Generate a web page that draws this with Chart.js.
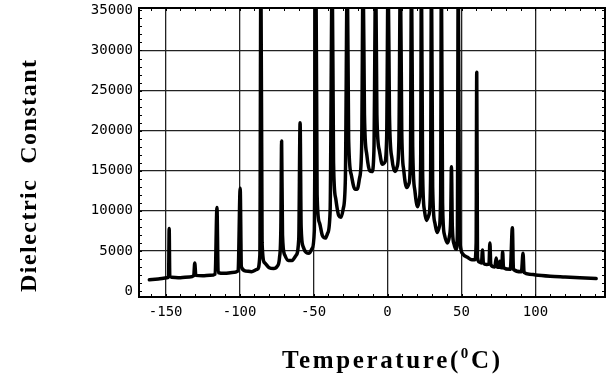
<!DOCTYPE html>
<html>
<head>
<meta charset="utf-8">
<script src="https://cdn.jsdelivr.net/npm/chart.js@4.4.1/dist/chart.umd.min.js"></script>
<style>
html,body{margin:0;padding:0;background:#fff;}
canvas{display:block;}
</style>
</head>
<body>
<canvas id="c" width="611" height="382"></canvas>
<script>
// ---- data ----
const temps = [
 -161,-155,-149,-148.0,-147.6,-147.2,-146,-140,-134,-131,-130.3,-129.6,-125,-120,-116.5,-115.3,-114.5,
 -110,-105,-101,-99.6,-98.8,-96,-92,-88,-86.3,-85.6,-84.8,-83,-80,-77,-74.5,-73,-72.1,-71.6,-71.0,
 -69.5,-67,-64.5,-62,-60,-59.1,-58.4,-57,-55,-53,-51,-49.5,-48.4,-47.6,-46,-44,-42,-40.5,-38.8,-37.4,
 -36.5,-35,-33,-31.5,-30,-28.5,-27.2,-26.3,-24.5,-22,-20.5,-19,-17.5,-16.5,-15.6,-14,-12,-10.5,-9.2,-8,
 -7.2,-5.5,-3.5,-2,-0.6,0.4,1.3,3,5,6.5,7.7,8.7,9.6,11,13,14.5,15.5,16.2,17.0,18.5,20.3,21.6,22.4,22.9,
 23.7,25,26.3,28,29.1,29.7,30.5,32,33.5,35,35.9,36.4,37.2,38.5,40.3,41.8,42.7,43.2,43.8,45,46.3,47.2,47.8,
 48.6,49.5,51,54,57,59,59.9,60.3,60.8,62,63.5,64.2,64.8,67,68.6,69.2,69.8,72.5,73.5,74.2,75.4,75.9,76.4,
 77.2,77.8,78.4,83,84.4,85.1,90.5,91.6,92.3,96,100,110,120,130,141
];
const eps = [
 1400,1500,1650,1800,7800,1900,1700,1650,1750,1900,3500,1950,1900,1950,2100,10400,2300,
 2200,2300,2500,12800,3000,2500,2400,2700,4500,40000,6000,3500,2900,2800,3100,4200,8000,18700,7000,
 4500,3800,3800,4400,6500,21000,8000,5500,4800,4700,5300,7500,40000,12000,8500,6900,6600,7200,10000,40000,
 16000,11500,9400,9200,10200,14000,40000,19000,14500,12700,12700,14000,18000,40000,22000,17000,15000,14900,17500,40000,
 22000,17500,15800,16000,19000,40000,22000,16500,14900,15500,19000,40000,20000,15000,12900,13400,17000,40000,18000,12500,10500,11500,16000,40000,
 15000,10000,8800,9500,14000,40000,13000,8500,7300,8000,12000,40000,11000,7000,6000,6800,9000,15500,8000,5800,5200,7000,40000,
 9000,5300,4600,4200,3900,3900,6000,27300,4200,3600,3500,5100,3500,3300,3400,6000,3300,3000,4100,3000,2950,3700,2950,
 2900,4900,2900,2700,7900,2700,2400,4700,2300,2100,2000,1850,1750,1650,1550
];
const xTicks = [-150, -100, -50, 0, 50, 100];
const yTicks = [0, 5000, 10000, 15000, 20000, 25000, 30000, 35000];
const xTickLabels = ['-150', '-100', '-50', '0', '50', '100'];
const yTickLabels = ['0', '5000', '10000', '15000', '20000', '25000', '30000', '35000'];
const xTitle = ['Temperature(', '0', 'C)'];
const yTitle = 'Dielectric  Constant';

const points = temps.map((t, i) => ({x: t, y: eps[i]}));

const frame = {
  id: 'frame',
  afterDraw(chart) {
    const ctx = chart.ctx, a = chart.chartArea;
    const xs = chart.scales.x, ys = chart.scales.y;
    ctx.save();
    ctx.strokeStyle = '#000';
    ctx.lineWidth = 2;
    ctx.strokeRect(a.left, a.top, a.right - a.left, a.bottom - a.top);
    // minor ticks
    ctx.lineWidth = 1;
    ctx.beginPath();
    for (let v = -160; v <= 140; v += 10) {
      const px = Math.round(xs.getPixelForValue(v)) + 0.5;
      ctx.moveTo(px, a.bottom); ctx.lineTo(px, a.bottom - 3);
      ctx.moveTo(px, a.top); ctx.lineTo(px, a.top + 3);
    }
    for (let v = 0; v <= 35000; v += 1000) {
      const py = Math.round(ys.getPixelForValue(v)) + 0.5;
      ctx.moveTo(a.left, py); ctx.lineTo(a.left + 3, py);
      ctx.moveTo(a.right, py); ctx.lineTo(a.right - 3, py);
    }
    ctx.stroke();

    // x title
    ctx.fillStyle = '#000';
    ctx.textBaseline = 'alphabetic';
    const big = 'bold 25px "Liberation Serif", "Times New Roman", serif';
    const small = 'bold 15px "Liberation Serif", "Times New Roman", serif';
    ctx.letterSpacing = '0px';
    ctx.font = big;
    let w = ctx.measureText(xTitle[0]).width + ctx.measureText(xTitle[2]).width;
    ctx.font = small;
    w += ctx.measureText(xTitle[1]).width;
    const sp = (218 - w) / 14;
    ctx.letterSpacing = sp + 'px';
    let x = 282, base = 368;
    ctx.font = big;
    ctx.fillText(xTitle[0], x, base); x += ctx.measureText(xTitle[0]).width;
    ctx.font = small;
    ctx.fillText(xTitle[1], x, base - 10); x += ctx.measureText(xTitle[1]).width;
    ctx.font = big;
    ctx.fillText(xTitle[2], x, base);

    // y title
    ctx.letterSpacing = '0px';
    ctx.font = 'bold 24px "Liberation Serif", "Times New Roman", serif';
    const wy = ctx.measureText(yTitle).width;
    const spy = (232 - wy) / (yTitle.length - 1);
    ctx.letterSpacing = spy + 'px';
    ctx.translate(36, 292);
    ctx.rotate(-Math.PI / 2);
    ctx.textAlign = 'left';
    ctx.fillText(yTitle, 0, 0);
    ctx.restore();
  }
};

new Chart(document.getElementById('c'), {
  type: 'line',
  data: {
    datasets: [{
      data: points,
      borderColor: '#000',
      borderWidth: 3.5,
      pointRadius: 0,
      fill: false,
      cubicInterpolationMode: 'monotone',
      borderJoinStyle: 'round',
      borderCapStyle: 'round'
    }]
  },
  options: {
    responsive: false,
    animation: false,
    devicePixelRatio: 1,
    layout: {padding: {left: 0, right: 6, top: 8, bottom: 0}},
    plugins: {legend: {display: false}, tooltip: {enabled: false}},
    scales: {
      x: {
        type: 'linear', min: -168, max: 147,
        afterBuildTicks: s => { s.ticks = xTicks.map(v => ({value: v})); },
        afterFit: s => { s.height = 85; s.paddingLeft = 0; s.paddingRight = 0; },
        ticks: {
          color: '#000', padding: 7,
          font: {family: '"DejaVu Sans Mono", monospace', size: 14},
          callback: (v) => xTickLabels[xTicks.indexOf(v)]
        },
        grid: {color: '#222', lineWidth: 1.3, drawTicks: false},
        border: {display: true, color: '#000', width: 2}
      },
      y: {
        type: 'linear', min: -750, max: 35300,
        afterBuildTicks: s => { s.ticks = yTicks.map(v => ({value: v})); },
        afterFit: s => { s.width = 139; s.paddingTop = 0; s.paddingBottom = 0; },
        ticks: {
          color: '#000', padding: 6,
          font: {family: '"DejaVu Sans Mono", monospace', size: 14},
          callback: (v) => yTickLabels[yTicks.indexOf(v)]
        },
        grid: {
          color: c => (c.tick && (c.tick.value === 0 || c.tick.value === 35000)) ? 'rgba(0,0,0,0)' : '#222',
          lineWidth: 1.3, drawTicks: false
        },
        border: {display: true, color: '#000', width: 2}
      }
    }
  },
  plugins: [frame]
});
</script>
</body>
</html>
